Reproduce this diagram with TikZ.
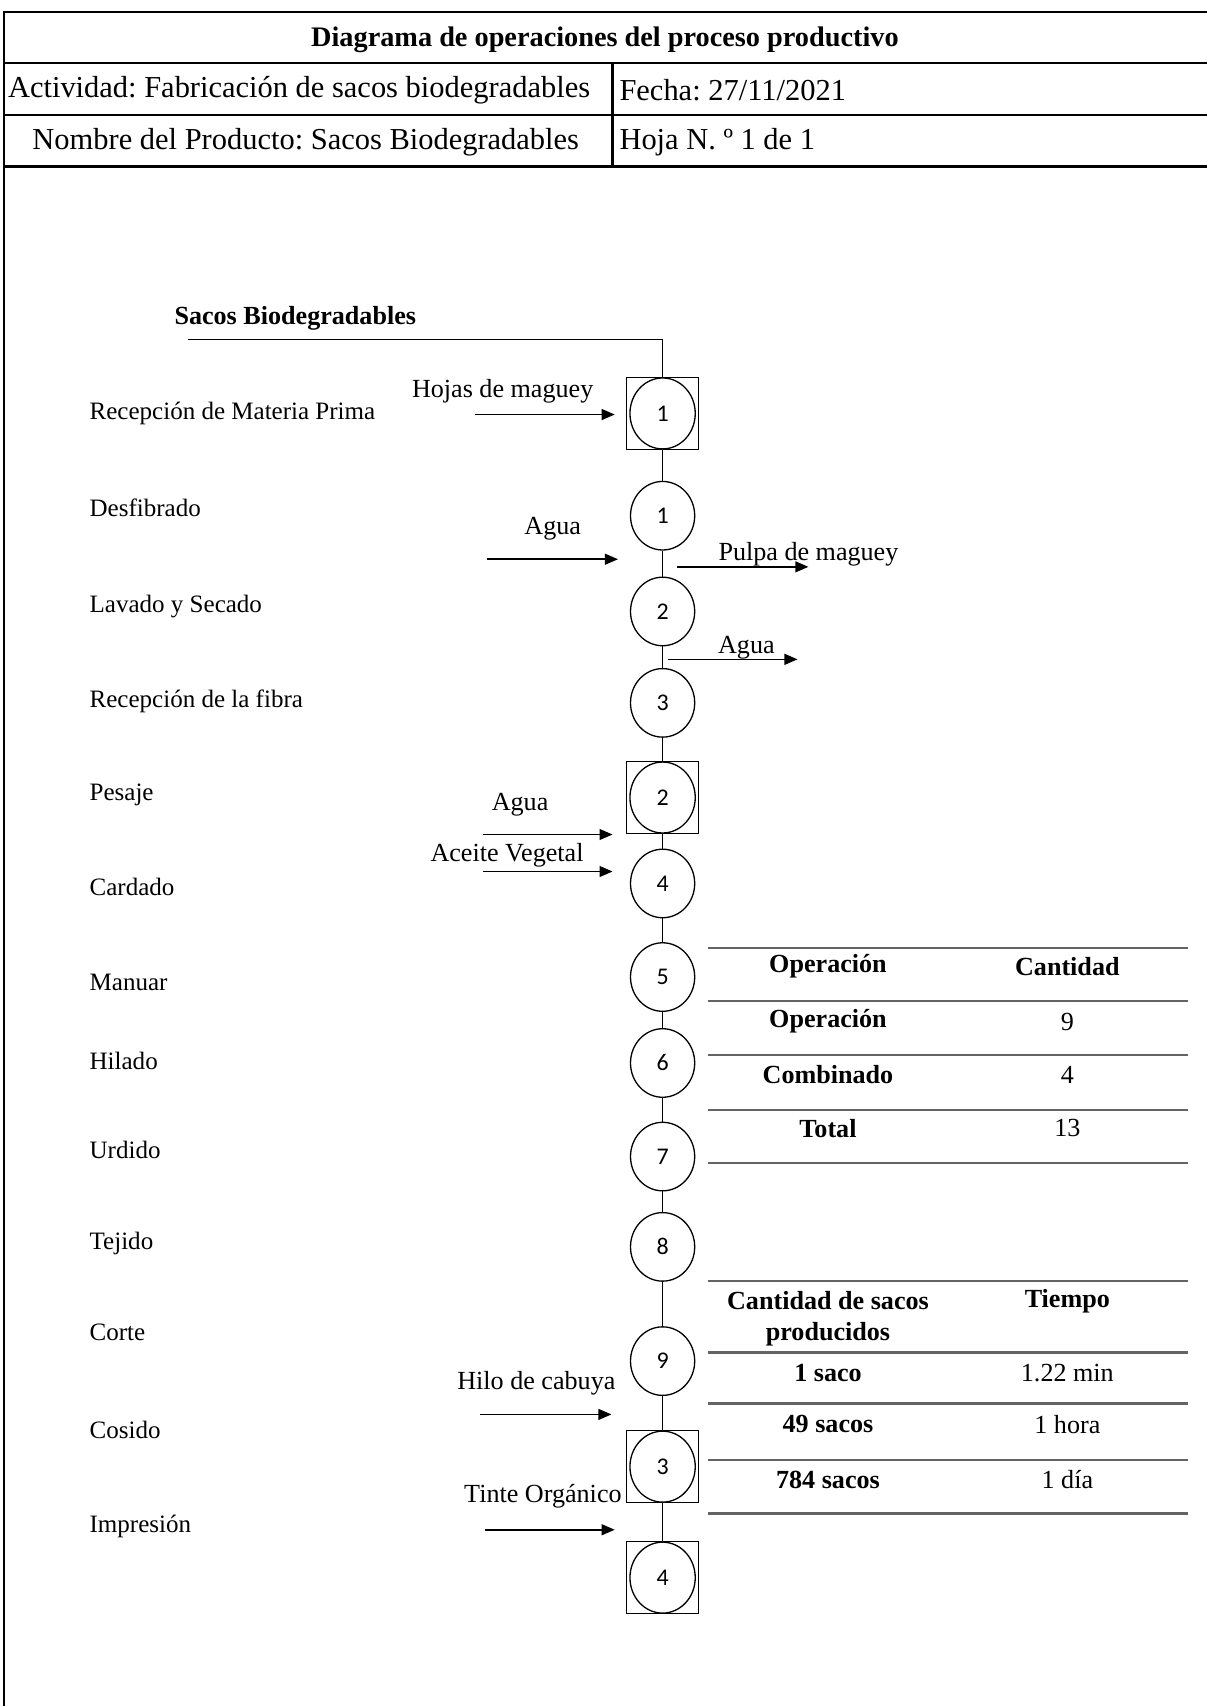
\documentclass[tikz,border=0pt]{standalone}
\usepackage{fontspec}
\setmainfont{Liberation Serif}
\newfontfamily\numfont{Carlito}
\usetikzlibrary{arrows.meta,positioning,shapes.geometric}
\definecolor{rulegray}{RGB}{100,100,100}
\frenchspacing

\begin{document}
\begin{tikzpicture}[x=0.5pt, y=-0.5pt,
  frame/.style={line width=1pt},
  op/.style={draw, ellipse, line width=0.6pt, minimum width=29.5pt, minimum height=31.5pt, inner sep=0pt, font=\numfont\fontsize{11}{13}\selectfont},
  comb/.style={draw, rectangle, line width=0.6pt, minimum width=33pt, minimum height=33pt, inner sep=0pt, font=\numfont\fontsize{11}{13}\selectfont,
    path picture={\draw[line width=0.6pt] (path picture bounding box.center) ellipse (15pt and 16.3pt);}},
  flow/.style={line width=0.7pt},
  arr/.style={-{Triangle[length=6pt,width=5pt]}, line width=0.7pt},
  stepname/.style={anchor=west, inner sep=0pt, font=\fontsize{11.5}{14}\selectfont},
  lbl/.style={inner sep=0pt, font=\fontsize{12}{14}\selectfont},
  hdr/.style={inner sep=0pt, font=\fontsize{14}{16}\selectfont},
  cell/.style={inner sep=0pt, align=center, font=\fontsize{12}{14}\selectfont},
  tline/.style={draw=rulegray, line width=1pt}
]
\useasboundingbox (0,0) rectangle (1109,1568);
\draw[frame] (4,1568) -- (4,11) -- (1109,11);
\draw[frame] (4,58) -- (1109,58);
\draw[frame] (4,106) -- (1109,106);
\draw[frame] (4,153) -- (1109,153);
\draw[frame] (563,58) -- (563,153);
\node[hdr, font=\fontsize{13}{15}\selectfont\bfseries] (title) at (556,37) {Diagrama de operaciones del proceso productivo};
\node[hdr, anchor=west] (actividad) at (7,83) {Actividad: Fabricación de sacos biodegradables};
\node[hdr, anchor=west] (fecha) at (569,83) {Fecha: 27/11/2021};
\node[hdr] (producto) at (281,131) {Nombre del Producto: Sacos Biodegradables};
\node[hdr, anchor=west] (hoja) at (569,131) {Hoja N. º 1 de 1};

\node[lbl, anchor=west, font=\fontsize{12}{14}\selectfont\bfseries] (sacos) at (160,293) {Sacos Biodegradables};
\node[stepname] (s1) at (82,380) {Recepción de Materia Prima};
\node[stepname] (s2) at (82,467) {Desfibrado};
\node[stepname] (s3) at (82,557) {Lavado y Secado};
\node[stepname] (s4) at (82,645) {Recepción de la fibra};
\node[stepname] (s5) at (82,731) {Pesaje};
\node[stepname] (s6) at (82,815) {Cardado};
\node[stepname] (s7) at (82,903) {Manuar};
\node[stepname] (s8) at (82,975) {Hilado};
\node[stepname] (s9) at (82,1057) {Urdido};
\node[stepname] (s10) at (82,1143) {Tejido};
\node[stepname] (s11) at (82,1225) {Corte};
\node[stepname] (s12) at (82,1314) {Cosido};
\node[stepname] (s13) at (82,1403) {Impresión};

\node[comb] (c1) at (609,380) {1};
\node[op] (o1) at (609,474) {1};
\node[op] (o2) at (609,562) {2};
\node[op] (o3) at (609,646) {3};
\node[comb] (c2) at (609,733) {2};
\node[op] (o4) at (609,812) {4};
\node[op] (o5) at (609,898) {5};
\node[op] (o6) at (609,977) {6};
\node[op] (o7) at (609,1063) {7};
\node[op] (o8) at (609,1146) {8};
\node[op] (o9) at (609,1251) {9};
\node[comb] (c3) at (609,1348) {3};
\node[comb] (c4) at (609,1450) {4};

\coordinate (sacL) at (173,312);
\coordinate (sacR) at (609,312);
\draw[flow] (sacL) -- (sacR) -- (c1);
\draw[flow] (c1) -- (o1);
\draw[flow] (o1) -- (o2);
\draw[flow] (o2) -- (o3);
\draw[flow] (o3) -- (c2);
\draw[flow] (c2) -- (o4);
\draw[flow] (o4) -- (o5);
\draw[flow] (o5) -- (o6);
\draw[flow] (o6) -- (o7);
\draw[flow] (o7) -- (o8);
\draw[flow] (o8) -- (o9);
\draw[flow] (o9) -- (c3);
\draw[flow] (c3) -- (c4);

\node[lbl] (hojas) at (462,360) {Hojas de maguey};
\coordinate (hojasA) at (437,381);
\coordinate (hojasB) at (565,381);
\draw[arr] (hojasA) -- (hojasB);
\node[lbl] (agua1) at (508,486) {Agua};
\coordinate (agua1A) at (448,514);
\coordinate (agua1B) at (568,514);
\draw[arr] (agua1A) -- (agua1B);
\node[lbl, anchor=west] (pulpa) at (660,509) {Pulpa de maguey};
\coordinate (pulpaA) at (622,521);
\coordinate (pulpaB) at (743,521);
\draw[arr] (pulpaA) -- (pulpaB);
\node[lbl] (agua2) at (686,595) {Agua};
\coordinate (agua2A) at (614,606);
\coordinate (agua2B) at (733,606);
\draw[arr] (agua2A) -- (agua2B);
\node[lbl] (agua3) at (478,740) {Agua};
\coordinate (agua3A) at (444,767);
\coordinate (agua3B) at (563,767);
\draw[arr] (agua3A) -- (agua3B);
\node[lbl] (aceite) at (466,786) {Aceite Vegetal};
\coordinate (aceiteA) at (444,801);
\coordinate (aceiteB) at (563,801);
\draw[arr] (aceiteA) -- (aceiteB);
\node[lbl] (hilo) at (493,1271) {Hilo de cabuya};
\coordinate (hiloA) at (441,1300);
\coordinate (hiloB) at (562,1300);
\draw[arr] (hiloA) -- (hiloB);
\node[lbl] (tinte) at (499,1375) {Tinte Orgánico};
\coordinate (tinteA) at (446,1406);
\coordinate (tinteB) at (565,1406);
\draw[arr] (tinteA) -- (tinteB);

\draw[tline] (651,871) -- (1092,871);
\draw[tline] (651,920) -- (1092,920);
\draw[tline] (651,970) -- (1092,970);
\draw[tline] (651,1020) -- (1092,1020);
\draw[tline] (651,1069) -- (1092,1069);
\node[cell, font=\fontsize{12}{14}\selectfont\bfseries] (opH) at (761,888) {Operación};
\node[cell, font=\fontsize{12}{14}\selectfont\bfseries] (cantH) at (981,888) {Cantidad};
\node[cell, font=\fontsize{12}{14}\selectfont\bfseries] (opR) at (761,939) {Operación};
\node[cell] (opN) at (981,939) {9};
\node[cell, font=\fontsize{12}{14}\selectfont\bfseries] (combR) at (761,988) {Combinado};
\node[cell] (combN) at (981,988) {4};
\node[cell, font=\fontsize{12}{14}\selectfont\bfseries] (totR) at (761,1037) {Total};
\node[cell] (totN) at (981,1037) {13};

\draw[tline] (651,1177) -- (1092,1177);
\draw[tline] (651,1243) -- (1092,1243);
\draw[tline] (651,1290) -- (1092,1290);
\draw[tline] (651,1342) -- (1092,1342);
\draw[tline] (651,1391) -- (1092,1391);
\node[cell, font=\fontsize{12}{14}\selectfont\bfseries] (sacH) at (761,1212) {Cantidad de sacos\\producidos};
\node[cell, font=\fontsize{12}{14}\selectfont\bfseries] (tiemH) at (981,1196) {Tiempo};
\node[cell, font=\fontsize{12}{14}\selectfont\bfseries] (sac1) at (761,1262) {1 saco};
\node[cell] (tiem1) at (981,1262) {1.22 min};
\node[cell, font=\fontsize{12}{14}\selectfont\bfseries] (sac2) at (761,1309) {49 sacos};
\node[cell] (tiem2) at (981,1309) {1 hora};
\node[cell, font=\fontsize{12}{14}\selectfont\bfseries] (sac3) at (761,1360) {784 sacos};
\node[cell] (tiem3) at (981,1360) {1 día};
\end{tikzpicture}
\end{document}
